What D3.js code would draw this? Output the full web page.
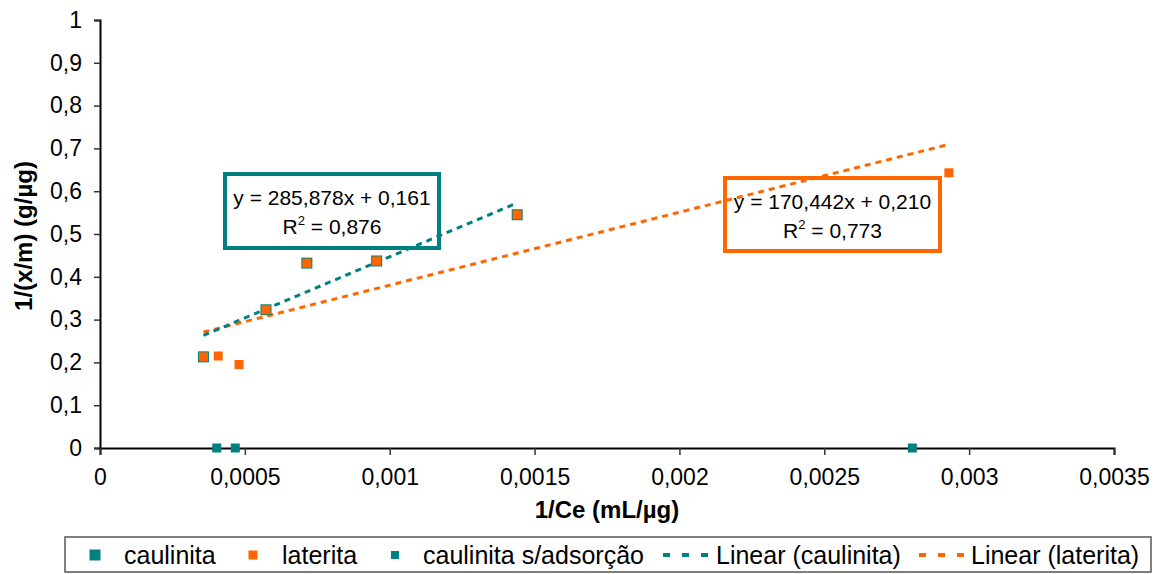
<!DOCTYPE html>
<html>
<head>
<meta charset="utf-8">
<script src="https://cdn.jsdelivr.net/npm/d3@7"></script>
<style>
  html, body { margin: 0; padding: 0; background: #fff; }
  svg text { font-family: "Liberation Sans", Arial, sans-serif; fill: #000; }
</style>
</head>
<body>
<svg id="chart" width="1162" height="574"></svg>
<script>
// Series data: 1/Ce (mL/µg) vs 1/(x/m) (g/µg)
const caulinitaX = [0.000357, 0.000573, 0.000714, 0.000955, 0.001440];
const caulinitaY = [0.213, 0.323, 0.432, 0.437, 0.545];

const lateritaX = [0.000357, 0.000408, 0.000480, 0.000573, 0.000714, 0.000955, 0.001440, 0.002930];
const lateritaY = [0.213, 0.215, 0.195, 0.323, 0.432, 0.437, 0.545, 0.643];

const semAdsorcaoX = [0.000403, 0.000467, 0.002804];
const semAdsorcaoY = [0, 0, 0];

// Linear trend lines (slope, intercept, R²)
const trendCaulinita = { slope: 285.878, intercept: 0.161, r2: 0.876 };
const trendLaterita = { slope: 170.442, intercept: 0.210, r2: 0.773 };

const xTicks = [0, 0.0005, 0.001, 0.0015, 0.002, 0.0025, 0.003, 0.0035];
const yTicks = [0, 0.1, 0.2, 0.3, 0.4, 0.5, 0.6, 0.7, 0.8, 0.9, 1];

const TEAL = "#008080";
const ORANGE = "#FF6600";

const svg = d3.select("#chart");
const plot = { left: 100, right: 1114, top: 20, bottom: 448 };

const x = d3.scaleLinear().domain([0, 0.0035]).range([plot.left, plot.right]);
const y = d3.scaleLinear().domain([0, 1]).range([plot.bottom, plot.top]);

const fmt = v => String(+v.toPrecision(6)).replace(".", ",");

// Y axis
const yAxis = svg.append("g")
  .attr("transform", `translate(${plot.left},0)`)
  .call(d3.axisLeft(y).tickValues(yTicks).tickSize(6).tickPadding(12).tickFormat(fmt));
yAxis.select(".domain").attr("stroke", "#000").attr("stroke-width", 2);
yAxis.selectAll(".tick line").attr("stroke", "#333").attr("stroke-width", 1.5);
yAxis.selectAll(".tick text").attr("font-size", 23).attr("font-family", "Liberation Sans, Arial, sans-serif").attr("fill", "#000");

// X axis
const xAxis = svg.append("g")
  .attr("transform", `translate(0,${plot.bottom})`)
  .call(d3.axisBottom(x).tickValues(xTicks).tickSize(7).tickPadding(14).tickFormat(fmt));
xAxis.select(".domain").attr("stroke", "#000").attr("stroke-width", 2);
xAxis.selectAll(".tick line").attr("stroke", "#333").attr("stroke-width", 1.5);
xAxis.selectAll(".tick text").attr("font-size", 23).attr("font-family", "Liberation Sans, Arial, sans-serif").attr("fill", "#000");

// Axis titles
svg.append("text")
  .attr("x", (plot.left + plot.right) / 2)
  .attr("y", 518)
  .attr("text-anchor", "middle")
  .attr("font-size", 24).attr("font-weight", "bold")
  .text("1/Ce (mL/µg)");

svg.append("text")
  .attr("transform", `translate(32,236) rotate(-90)`)
  .attr("text-anchor", "middle")
  .attr("font-size", 24).attr("font-weight", "bold")
  .text("1/(x/m) (g/µg)");

// Trend lines, drawn over each series' x extent
function trend(xs, t, color) {
  const ext = d3.extent(xs);
  const pts = ext.map(v => [x(v), y(t.slope * v + t.intercept)]);
  svg.append("path")
    .attr("d", d3.line()(pts))
    .attr("fill", "none")
    .attr("stroke", color)
    .attr("stroke-width", 3)
    .attr("stroke-dasharray", "6,5");
}
trend(lateritaX, trendLaterita, ORANGE);
trend(caulinitaX, trendCaulinita, TEAL);

// Square markers
function squares(xs, ys, size, color) {
  svg.append("g").selectAll("rect")
    .data(xs.map((v, i) => [v, ys[i]]))
    .join("rect")
    .attr("x", d => x(d[0]) - size / 2)
    .attr("y", d => y(d[1]) - size / 2)
    .attr("width", size).attr("height", size)
    .attr("fill", color);
}
squares(caulinitaX, caulinitaY, 11, TEAL);
squares(lateritaX, lateritaY, 9, ORANGE);
squares(semAdsorcaoX, semAdsorcaoY, 9, TEAL);

// Equation labels
function eqBox(bx, by, bw, bh, t, color) {
  svg.append("rect")
    .attr("x", bx).attr("y", by).attr("width", bw).attr("height", bh)
    .attr("fill", "none").attr("stroke", color).attr("stroke-width", 4);
  const cx = bx + bw / 2;
  svg.append("text")
    .attr("x", cx).attr("y", by + 31)
    .attr("text-anchor", "middle").attr("font-size", 21)
    .text(`y = ${fmt(t.slope)}x + ${t.intercept.toFixed(3).replace(".", ",")}`);
  const r = svg.append("text")
    .attr("x", cx).attr("y", by + 60)
    .attr("text-anchor", "middle").attr("font-size", 21);
  r.append("tspan").text("R");
  r.append("tspan").attr("font-size", 13).attr("dy", -9).text("2");
  r.append("tspan").attr("dy", 9).text(` = ${t.r2.toFixed(3).replace(".", ",")}`);
}
eqBox(225, 174, 214, 74, trendCaulinita, TEAL);
eqBox(725, 178, 215, 73, trendLaterita, ORANGE);

// Legend
const lg = svg.append("g");
lg.append("rect")
  .attr("x", 65).attr("y", 537).attr("width", 1086).attr("height", 35)
  .attr("fill", "#fff").attr("stroke", "#555").attr("stroke-width", 1.5);

const legendItems = [
  { label: "caulinita", type: "square", size: 11, color: TEAL, mx: 95, tx: 124 },
  { label: "laterita", type: "square", size: 9, color: ORANGE, mx: 253, tx: 282 },
  { label: "caulinita s/adsorção", type: "square", size: 8, color: TEAL, mx: 395, tx: 423 },
  { label: "Linear (caulinita)", type: "line", color: TEAL, mx: 663, tx: 716 },
  { label: "Linear (laterita)", type: "line", color: ORANGE, mx: 919, tx: 971 }
];
const ly = 555;
legendItems.forEach(it => {
  if (it.type === "square") {
    lg.append("rect")
      .attr("x", it.mx - it.size / 2).attr("y", ly - it.size / 2)
      .attr("width", it.size).attr("height", it.size)
      .attr("fill", it.color);
  } else {
    lg.append("line")
      .attr("x1", it.mx).attr("x2", it.mx + 45)
      .attr("y1", ly).attr("y2", ly)
      .attr("stroke", it.color).attr("stroke-width", 4)
      .attr("stroke-dasharray", "7,12");
  }
  lg.append("text")
    .attr("x", it.tx).attr("y", ly + 9)
    .attr("font-size", 25)
    .text(it.label);
});
</script>
</body>
</html>
